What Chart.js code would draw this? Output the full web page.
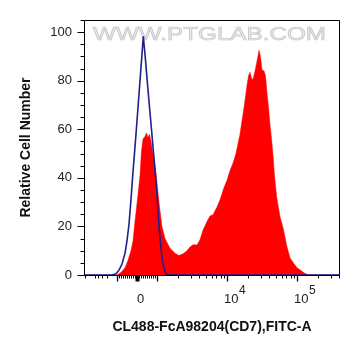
<!DOCTYPE html>
<html><head><meta charset="utf-8">
<script src="https://cdn.jsdelivr.net/npm/chart.js@4/dist/chart.umd.min.js"></script>
<style>html,body{margin:0;padding:0;background:#fff}canvas{display:block}</style>
</head><body>
<canvas id="c" width="361" height="356"></canvas>
<script>
// X values are in biexponential display units (decades: 10^4 -> 4, 10^5 -> 5)
const redX = [1.953,2.424,2.439,2.481,2.539,2.581,2.624,2.653,2.681,2.724,2.753,2.774,2.796,2.824,2.846,2.867,2.889,2.910,2.931,2.967,2.996,3.024,3.067,3.110,3.181,3.253,3.310,3.367,3.424,3.467,3.510,3.567,3.610,3.653,3.710,3.753,3.796,3.853,3.896,3.953,3.996,4.039,4.081,4.124,4.181,4.239,4.281,4.303,4.324,4.346,4.367,4.396,4.424,4.453,4.474,4.496,4.524,4.546,4.567,4.589,4.610,4.634,4.657,4.674,4.706,4.753,4.800,4.849,4.896,4.943,4.996,5.063,5.110,5.153,5.210,5.610];
const redY = [0,0,0.3,1,3,6,10,14,22,33,41,51,56,57,58.5,56.5,58,55,51,45,38,30,20,15,11,9,8,8.7,10,11.5,12.5,12.4,14.5,18.5,22,24.3,24.8,28,31,36,39,43,46,50,58,69,78,82,83.5,81,80.5,84,88,92.5,90,84.5,84,82,75,69,62,55.5,48,41,32,24,19,12,7,5,3,1.6,0.6,0.2,0,0];
const blueX = [1.953,2.353,2.410,2.453,2.496,2.539,2.567,2.596,2.624,2.649,2.674,2.701,2.727,2.753,2.779,2.800,2.827,2.856,2.886,2.917,2.947,2.981,3.003,3.024,3.046,3.071,3.096,3.117,3.139,3.181,5.610];
const blueY = [0,0,0.5,2,4.5,9,14,21,31,41,50,60,70,80,90,98.3,90,80,70,60,50,39,30,20,13,6,3,1,0.3,0,0];

const yTickValues = [0,20,40,60,80,100];
const yMinorStep = 5;
const xMajorTickValues = [-1000,0,1000,10000,100000];
const xMinorTickValues = [-10000,-5000,-4000,-3000,-2000,-900,-800,-700,-600,-500,-400,-300,-200,-100,100,200,300,400,500,600,700,800,900,2000,3000,4000,5000,6000,7000,8000,9000,20000,30000,40000,50000,60000,70000,80000,90000,200000,300000,400000];
const xLabelValues = [0,10000,100000];
const xLabelBase = ['0','10','10'];
const xLabelExp = ['','4','5'];
const xTitle = 'CL488-FcA98204(CD7),FITC-A';
const yTitle = 'Relative Cell Number';
const watermark = 'WWW.PTGLAB.COM';

function toDisplay(v){
  if (v >= 0 && v <= 1000) return 2.703 + v*0.000297;
  if (v < 0 && v >= -1000) return 2.703 + v*0.000279;
  if (v > 1000) return 3 + Math.log10(v/1000);
  return 2.424 - 0.45*Math.log10(-v/1000);
}

const FONT = '"Liberation Sans", Arial, Helvetica, sans-serif';
Chart.defaults.font.family = FONT;

const decor = {
  id:'decor',
  beforeDatasetsDraw(chart){
    const {ctx, chartArea:a} = chart;
    ctx.save();
    ctx.font = '18px ' + FONT;
    const w = ctx.measureText(watermark).width;
    const target = 233;
    ctx.translate(a.left + 9, a.top + 20);
    ctx.scale(target / w, 1);
    ctx.fillStyle = '#ececec';
    ctx.strokeStyle = '#c6c6c6';
    ctx.lineWidth = 0.7;
    ctx.fillText(watermark, 0, 0);
    ctx.strokeText(watermark, 0, 0);
    ctx.restore();
  },
  afterDraw(chart){
    const {ctx, chartArea:a, scales:{x, y}} = chart;
    ctx.save();
    ctx.strokeStyle = '#000';
    ctx.lineWidth = 1;
    const L = Math.round(a.left)+0.5, R = Math.round(a.right)-0.5, T = Math.round(a.top)+0.5, B = Math.round(a.bottom)+0.5;
    ctx.beginPath();
    ctx.moveTo(L,T); ctx.lineTo(R,T); ctx.lineTo(R,B); ctx.lineTo(L,B); ctx.closePath();
    ctx.stroke();
    // y ticks
    for (let v = 0; v <= y.max; v += yMinorStep){
      const py = Math.round(y.getPixelForValue(v)) + 0.5;
      const major = yTickValues.includes(v);
      ctx.beginPath();
      ctx.moveTo(L - (major ? 7 : 4), py); ctx.lineTo(L, py); ctx.stroke();
    }
    // x ticks
    const tick = (v, len, w) => {
      const px = Math.round(x.getPixelForValue(toDisplay(v))) + 0.5;
      if (px < a.left || px > a.right) return;
      ctx.lineWidth = w;
      ctx.beginPath(); ctx.moveTo(px, B); ctx.lineTo(px, B + len); ctx.stroke();
    };
    xMinorTickValues.forEach(v => tick(v, 3, 1));
    xMajorTickValues.forEach(v => tick(v, 6, v === 0 ? 4 : 1.3));
    // x labels
    ctx.fillStyle = '#222';
    ctx.textBaseline = 'alphabetic';
    ctx.textAlign = 'left';
    xLabelValues.forEach((v, i) => {
      const px = x.getPixelForValue(toDisplay(v)) + 4;
      ctx.font = '13px ' + FONT;
      const wb = ctx.measureText(xLabelBase[i]).width;
      ctx.fillText(xLabelBase[i], px - wb/2, a.bottom + 28);
      if (xLabelExp[i]){
        ctx.font = '12px ' + FONT;
        ctx.fillText(xLabelExp[i], px + wb/2 + 0.5, a.bottom + 18.5);
      }
    });
    ctx.restore();
  }
};

new Chart(document.getElementById('c'), {
  type:'line',
  data:{datasets:[
    {data: blueX.map((v,i)=>({x:v, y:blueY[i]})), borderColor:'#1f1f8f', borderWidth:1.6, fill:false, pointRadius:0, tension:0},
    {data: redX.map((v,i)=>({x:v, y:redY[i]})), borderColor:'#ff0000', backgroundColor:'#ff0000', borderWidth:0.5, fill:'origin', pointRadius:0, tension:0}
  ]},
  options:{
    responsive:false, animation:false, devicePixelRatio:1,
    layout:{padding:{left:18, top:20, right:21, bottom:20}},
    plugins:{legend:{display:false}, tooltip:{enabled:false}},
    scales:{
      x:{type:'linear', min:1.953, max:5.61,
        grid:{display:false, drawTicks:false}, border:{display:false},
        ticks:{display:false},
        title:{display:true, text:xTitle, color:'#111', padding:0, font:{size:14, weight:'bold'}},
        afterFit(s){ s.height = 61; }},
      y:{type:'linear', min:0, max:105,
        afterBuildTicks(s){ s.ticks = yTickValues.map(v => ({value:v})); },
        grid:{display:false, drawTicks:false}, border:{display:false},
        ticks:{padding:12, color:'#222', font:{size:13}},
        title:{display:true, text:yTitle, color:'#111', padding:0, font:{size:14, weight:'bold'}},
        afterFit(s){ s.width = 66; }}
    }
  },
  plugins:[decor]
});
</script>
</body></html>
